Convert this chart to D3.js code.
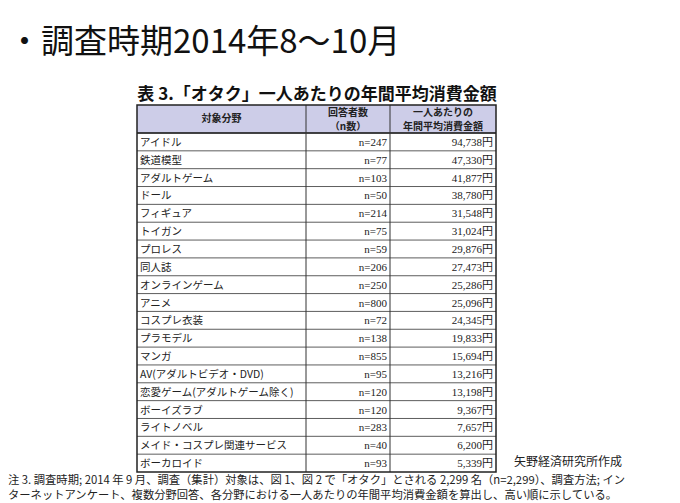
<!DOCTYPE html>
<html><head><meta charset="utf-8">
<script src="https://cdn.jsdelivr.net/npm/d3@7"></script>
<style>body{margin:0;background:#fff}</style></head>
<body><svg id="c" width="680" height="503"></svg>
<script>
const categories=["アイドル","鉄道模型","アダルトゲーム","ドール","フィギュア","トイガン","プロレス","同人誌","オンラインゲーム","アニメ","コスプレ衣装","プラモデル","マンガ","AV(アダルトビデオ・DVD)","恋愛ゲーム(アダルトゲーム除く)","ボーイズラブ","ライトノベル","メイド・コスプレ関連サービス","ボーカロイド"];
const respondents=[247,77,103,50,214,75,59,206,250,800,72,138,855,95,120,120,283,40,93];
const amounts=[94738,47330,41877,38780,31548,31024,29876,27473,25286,25096,24345,19833,15694,13216,13198,9367,7657,6200,5339];
const svg=d3.select("#c");
const jp="'Noto Sans CJK JP',sans-serif", serif="'Liberation Serif','Noto Sans CJK JP',serif";
svg.append("text").attr("x",8).attr("y",53).attr("font-family",jp).attr("font-size",33).attr("fill","#111").text("・調査時期2014年8〜10月");
svg.append("text").attr("x",317).attr("y",100).attr("text-anchor","middle").attr("font-family",jp).attr("font-weight","bold").attr("font-size",17).attr("fill","#111").text("表 3.「オタク」一人あたりの年間平均消費金額");
const x0=137,x1=306,x2=390,x3=496,hTop=105,hBot=133,bottom=472;
const y=d3.scaleBand().domain(d3.range(categories.length)).range([hBot,bottom]);
svg.append("rect").attr("x",x0).attr("y",hTop).attr("width",x3-x0).attr("height",hBot-hTop).attr("fill","#cdcde8");
const hs={"font-family":jp,"font-weight":"bold","font-size":10,"fill":"#222","text-anchor":"middle"};
function t(x,yy,s){const e=svg.append("text").attr("x",x).attr("y",yy).text(s);for(const k in hs)e.attr(k,hs[k]);}
t((x0+x1)/2,122,"対象分野");t((x1+x2)/2,116,"回答者数");t((x1+x2)/2,130,"（n数）");t((x2+x3)/2,116,"一人あたりの");t((x2+x3)/2,130,"年間平均消費金額");
const g=svg.append("g");
categories.forEach((c,i)=>{
 const yy=y(i)+y.bandwidth()/2+4;
 g.append("text").attr("x",x0+3).attr("y",yy).attr("font-family",jp).attr("font-size",10.5).attr("fill","#222").text(c);
 g.append("text").attr("x",x2-3).attr("y",yy).attr("text-anchor","end").attr("font-family",serif).attr("font-size",11).attr("fill","#222").text("n="+respondents[i]);
 g.append("text").attr("x",x3-3).attr("y",yy).attr("text-anchor","end").attr("font-family",serif).attr("font-size",11).attr("fill","#222").text(d3.format(",")(amounts[i])+"円");
 g.append("line").attr("x1",x0).attr("x2",x3).attr("y1",y(i)).attr("y2",y(i)).attr("stroke","#333").attr("stroke-width",0.8);
});
g.append("line").attr("x1",x0).attr("x2",x3).attr("y1",hBot).attr("y2",hBot).attr("stroke","#222").attr("stroke-width",1.5);
[x1,x2].forEach(x=>g.append("line").attr("x1",x).attr("x2",x).attr("y1",hTop).attr("y2",bottom).attr("stroke","#333").attr("stroke-width",1));
g.append("rect").attr("x",x0).attr("y",hTop).attr("width",x3-x0).attr("height",bottom-hTop).attr("fill","none").attr("stroke","#222").attr("stroke-width",1.5);
svg.append("text").attr("x",514).attr("y",466).attr("font-family",jp).attr("font-size",12).attr("fill","#222").text("矢野経済研究所作成");
svg.append("text").attr("x",8).attr("y",484).attr("font-family",jp).attr("font-size",11.3).attr("fill","#222").text("注 3. 調査時期; 2014 年 9 月、調査（集計）対象は、図 1、図 2 で「オタク」とされる 2,299 名（n=2,299）、調査方法; イン");
svg.append("text").attr("x",8).attr("y",499).attr("font-family",jp).attr("font-size",11.3).attr("fill","#222").text("ターネットアンケート、複数分野回答、各分野における一人あたりの年間平均消費金額を算出し、高い順に示している。");
</script></body></html>
